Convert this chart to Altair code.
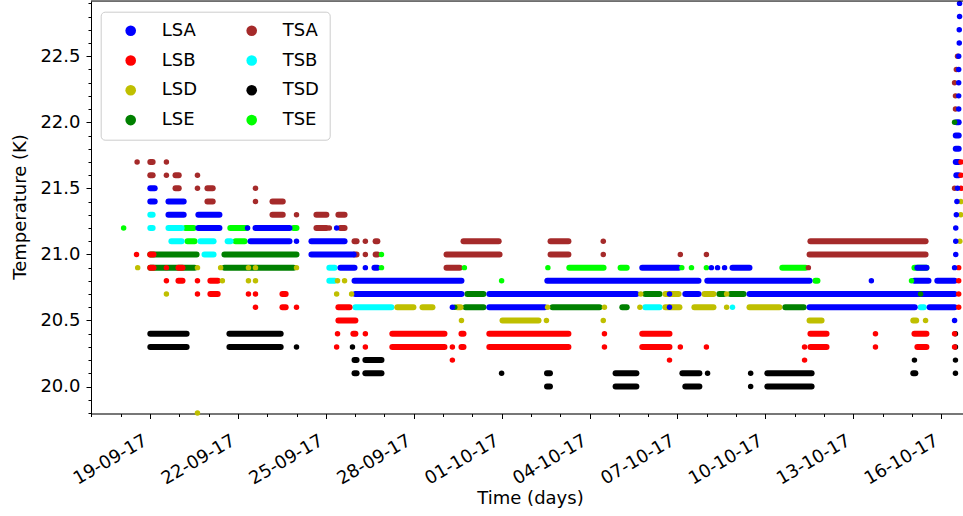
import altair as alt
import pandas as pd

# Each run: (temperature K, start day, end day); days counted from 2017-09-17 00:00.
# A run with a single day value is an isolated reading.
LSA = [
    (21.5, 2.01, 2.16),
    (21.4, 2.01, 2.16), (21.4, 2.63, 3.15),
    (21.3, 2.63, 3.15), (21.3, 3.65, 4.37),
    (21.2, 3.65, 4.37), (21.2, 5.33), (21.2, 5.60, 6.76), (21.2, 8.37),
    (21.1, 5.43, 6.76), (21.1, 7.00), (21.1, 7.51, 8.64),
    (21.0, 7.51, 8.95),
    (20.9, 8.50, 8.98), (20.9, 9.35), (20.9, 9.66, 9.76), (20.9, 18.80, 20.04),
    (20.9, 21.16), (20.9, 21.37), (20.9, 21.61), (20.9, 21.88, 22.46),
    (20.9, 28.19, 28.50), (20.9, 29.46),
    (20.8, 8.98, 12.63), (20.8, 15.56, 20.72), (20.8, 21.02, 24.51), (20.8, 26.62),
    (20.8, 28.09, 28.57), (20.8, 28.87, 29.46),
    (20.7, 9.01, 12.63), (20.7, 13.58, 18.60), (20.7, 19.73), (20.7, 20.27, 20.72),
    (20.7, 22.46, 29.46),
    (20.6, 12.32), (20.6, 13.58, 15.47), (20.6, 19.73), (20.6, 24.51, 28.10),
    (20.6, 28.61, 29.46),
    (20.5, 29.46),
    (21.0, 29.50), (21.1, 29.50), (21.2, 29.50), (21.3, 29.52), (21.4, 29.54),
    (21.5, 29.56), (21.6, 29.52, 29.60), (21.7, 29.50, 29.60), (21.8, 29.50, 29.60),
    (21.9, 29.50, 29.60), (22.0, 29.53, 29.60), (22.1, 29.60), (22.2, 29.60),
    (22.3, 29.60), (22.4, 29.60), (22.5, 29.60), (22.6, 29.62), (22.7, 29.62),
    (22.8, 29.63), (22.9, 29.63),
]
LSB = [
    (21.0, 1.54), (21.0, 2.01, 2.12),
    (20.9, 2.01, 2.12), (20.9, 2.56), (20.9, 2.97, 3.11),
    (20.8, 2.56), (20.8, 2.97, 3.11), (20.8, 3.62), (20.8, 4.06, 4.31),
    (20.7, 3.62), (20.7, 4.06, 4.31), (20.7, 5.36), (20.7, 5.60), (20.7, 6.52, 6.63),
    (20.6, 5.60), (20.6, 6.52, 6.63), (20.6, 7.00), (20.6, 8.43, 8.81),
    (20.5, 8.43, 9.01),
    (20.4, 8.40), (20.4, 8.94, 9.01), (20.4, 9.35), (20.4, 10.27, 12.05),
    (20.4, 12.63, 12.70), (20.4, 13.58, 16.28), (20.4, 17.51), (20.4, 18.80, 19.73),
    (20.4, 24.54, 25.09), (20.4, 26.76), (20.4, 28.09, 28.50), (20.4, 29.46),
    (20.3, 8.37), (20.3, 9.35), (20.3, 10.27, 12.05), (20.3, 12.32), (20.3, 12.63, 12.70),
    (20.3, 13.58, 16.28), (20.3, 17.51), (20.3, 18.80, 19.73), (20.3, 20.10),
    (20.3, 20.99), (20.3, 24.34), (20.3, 24.54, 25.09), (20.3, 26.76),
    (20.3, 28.19, 28.50), (20.3, 29.46),
    (20.2, 12.32), (20.2, 19.73), (20.2, 24.34),
    (21.7, 29.68), (21.6, 29.68), (21.5, 29.68),
    (20.9, 29.60), (20.8, 29.60), (20.7, 29.60), (20.6, 29.60),
]
LSD = [
    (20.9, 1.58), (20.9, 3.62), (20.9, 4.41), (20.9, 5.36), (20.9, 5.60), (20.9, 7.00),
    (20.8, 4.47), (20.8, 5.36), (20.8, 5.60), (20.8, 8.40), (20.8, 8.64),
    (20.7, 2.56), (20.7, 8.37), (20.7, 8.88), (20.7, 18.75), (20.7, 19.59, 20.04),
    (20.7, 20.92, 21.23), (20.7, 21.68),
    (20.6, 10.44, 10.99), (20.6, 11.30, 11.64), (20.6, 12.49, 12.60), (20.6, 15.57),
    (20.6, 17.51), (20.6, 18.72), (20.6, 19.59, 20.07), (20.6, 20.58, 21.23),
    (20.6, 21.68), (20.6, 22.46, 23.48),
    (20.5, 12.63), (20.5, 14.03, 15.26), (20.5, 15.53), (20.5, 17.47),
    (20.5, 24.51, 24.92), (20.5, 28.05, 28.15), (20.5, 28.47),
    (19.8, 3.62),
    (21.4, 29.67), (21.3, 29.67), (21.1, 29.64),
]
LSE = [
    (21.0, 2.01, 3.59), (21.0, 4.54, 7.00),
    (20.9, 2.01, 3.52), (20.9, 4.54, 6.90),
    (20.7, 12.83, 13.38), (20.7, 18.90, 19.39), (20.7, 21.43, 21.58),
    (20.7, 21.81, 22.26), (20.7, 28.30),
    (20.6, 12.40), (20.6, 12.77, 13.38), (20.6, 15.74, 17.34), (20.6, 18.12, 18.27),
    (20.6, 23.68, 24.31),
    (22.0, 29.46),
]
TSA = [
    (21.7, 1.56), (21.7, 2.01, 2.09), (21.7, 2.56),
    (21.6, 2.01, 2.09), (21.6, 2.56), (21.6, 2.87, 2.98), (21.6, 3.62),
    (21.5, 2.87, 2.98), (21.5, 3.62), (21.5, 3.96, 4.14), (21.5, 5.60),
    (21.4, 3.96, 4.14), (21.4, 5.60), (21.4, 6.18, 6.53),
    (21.3, 6.18, 6.53), (21.3, 7.00), (21.3, 7.68, 8.02), (21.3, 8.43, 8.64),
    (21.2, 7.68, 8.02), (21.2, 8.12), (21.2, 8.50, 8.64),
    (21.1, 8.98, 9.05), (21.1, 9.35), (21.1, 9.70, 9.76), (21.1, 12.70, 13.90),
    (21.1, 15.67, 16.28), (21.1, 17.47), (21.1, 24.54, 28.47),
    (21.0, 8.98, 9.05), (21.0, 9.35), (21.0, 9.70, 9.76), (21.0, 12.12, 13.93),
    (21.0, 15.67, 16.28), (21.0, 17.47), (21.0, 20.10), (21.0, 20.99),
    (21.0, 24.51, 28.47),
    (20.9, 12.12, 12.57), (20.9, 24.47),
    (22.5, 29.56), (22.4, 29.52), (22.3, 29.46), (22.2, 29.49), (22.1, 29.49),
    (21.5, 29.46),
]
TSB = [
    (21.3, 2.01, 2.09),
    (21.2, 2.01, 2.09), (21.2, 2.63, 3.08),
    (21.1, 2.73, 3.08), (21.1, 3.72, 4.17), (21.1, 4.65, 4.75),
    (21.0, 3.86, 4.17),
    (20.9, 8.12, 8.30),
    (20.8, 8.12, 8.30),
    (20.6, 9.01, 10.24), (20.6, 18.90, 19.39), (20.6, 21.88), (20.6, 28.30, 28.41),
]
TSD = [
    (20.4, 2.01, 3.25), (20.4, 4.71, 6.46),
    (20.3, 2.01, 3.25), (20.3, 4.71, 6.46), (20.3, 7.00), (20.3, 8.91),
    (20.2, 8.98, 9.05), (20.2, 9.35, 9.90), (20.2, 28.09), (20.2, 29.49),
    (20.1, 8.98, 9.05), (20.1, 9.35, 9.90), (20.1, 14.00), (20.1, 15.55, 15.65),
    (20.1, 17.89, 18.60), (20.1, 20.17, 20.75), (20.1, 21.03), (20.1, 22.50),
    (20.1, 23.07, 24.58), (20.1, 28.05, 28.12), (20.1, 29.49),
    (20.0, 15.55, 15.65), (20.0, 17.89, 18.60), (20.0, 20.27, 20.75), (20.0, 22.50),
    (20.0, 23.07, 24.58),
    (20.4, 29.49), (20.3, 29.49),
]
TSE = [
    (21.2, 1.10), (21.2, 3.21, 3.49), (21.2, 4.74, 5.30), (21.2, 6.90, 7.00),
    (21.1, 3.28, 3.52), (21.1, 4.92, 5.23),
    (21.0, 9.90),
    (20.9, 9.90), (20.9, 12.73), (20.9, 15.58), (20.9, 16.31, 17.48),
    (20.9, 18.06, 18.27), (20.9, 20.15), (20.9, 20.48), (20.9, 20.99),
    (20.9, 23.58, 24.37), (20.9, 28.09, 28.50),
    (20.8, 14.00), (20.8, 24.71, 24.78), (20.8, 27.99),
]

# legend entries (filled column by column, two columns) and their colours
LEGEND_ORDER = ["LSA", "LSB", "LSD", "LSE", "TSA", "TSB", "TSD", "TSE"]
LEGEND_COLORS = ["#0000ff", "#ff0000", "#bfbf00", "#008000",
                 "#a52a2a", "#00ffff", "#000000", "#00ff00"]

# axis ticks
X_TICK_DAYS = [(9, d) for d in range(17, 31)] + [(10, d) for d in range(1, 17)]
Y_TICKS = [19.8, 19.9, 20.0, 20.1, 20.2, 20.3, 20.4, 20.5, 20.6, 20.7, 20.8, 20.9,
           21.0, 21.1, 21.2, 21.3, 21.4, 21.5, 21.6, 21.7, 21.8, 21.9, 22.0, 22.1,
           22.2, 22.3, 22.4, 22.5, 22.6, 22.7, 22.8, 22.9]

START = pd.Timestamp("2017-09-17 00:00")
DRAW_ORDER = [("TSE", TSE), ("TSD", TSD), ("TSB", TSB), ("TSA", TSA),
              ("LSE", LSE), ("LSD", LSD), ("LSB", LSB), ("LSA", LSA)]

rows = []
for name, runs in DRAW_ORDER:
    for run in runs:
        d0 = run[1]
        d1 = run[2] if len(run) > 2 else run[1]
        rows.append({
            "series": name,
            "sensor": name,
            "temp": run[0],
            "t0": START + pd.Timedelta(days=d0),
            "t1": START + pd.Timedelta(days=d1),
            "single": len(run) == 2,
        })
df = pd.DataFrame(rows)
runs_df = df[~df["single"]].drop(columns=["single"])
dots_df = df[df["single"]].drop(columns=["single"])

W, H = 872, 412.5
FONT = "DejaVu Sans"

x_scale = alt.Scale(domain=[alt.DateTime(year=2017, month=9, date=16, hours=23, minutes=40),
                            alt.DateTime(year=2017, month=10, date=16, hours=17, minutes=56)])
y_scale = alt.Scale(domain=[19.796, 22.918], nice=False, zero=False)

x_major = "round((datum.value - datetime(2017, 8, 19)) / 86400000) % 3 == 0"
y_major = "abs(datum.value * 2 - round(datum.value * 2)) < 0.001"

x_axis = alt.Axis(
    values=[alt.DateTime(year=2017, month=m, date=d) for m, d in X_TICK_DAYS],
    tickCount=200,
    labelExpr=x_major + " ? timeFormat(datum.value, '%d-%m-%y') : ''",
    tickSize={"condition": {"test": x_major, "value": 5}, "value": 3},
    labelAngle=330, labelAlign="right", labelBaseline="top",
    labelPadding=13, labelOffset=-9, labelFontSize=18, labelColor="black",
    labelOverlap=False, labelFlush=False,
    tickColor="black", domainColor="black", grid=False,
    title="Time (days)", titleFontSize=18, titleFontWeight="normal", titleColor="black",
    titleX=439, titleY=89.5, titleAlign="center", titleBaseline="alphabetic",
)
y_axis = alt.Axis(
    values=Y_TICKS,
    tickCount=200,
    labelExpr=y_major + " ? format(datum.value, '.1f') : ''",
    tickSize={"condition": {"test": y_major, "value": 5}, "value": 3},
    labelPadding=6, labelFontSize=18, labelColor="black",
    labelOverlap=False, labelFlush=False,
    tickColor="black", domainColor="black", grid=False,
    title="Temperature (K)", titleFontSize=18, titleFontWeight="normal", titleColor="black",
    titleAngle=270, titleX=-66, titleY=205.5, titleAlign="center", titleBaseline="alphabetic",
)

runs_layer = alt.Chart(runs_df).mark_rule(strokeWidth=6, strokeCap="round").encode(
    x=alt.X("t0:T", scale=x_scale, axis=x_axis),
    x2="t1:T",
    y=alt.Y("temp:Q", scale=y_scale, axis=y_axis),
    stroke=alt.Stroke("series:N", scale=alt.Scale(domain=LEGEND_ORDER, range=LEGEND_COLORS),
                      legend=None),
)

dots_layer = alt.Chart(dots_df).mark_circle(size=30, opacity=1).encode(
    x=alt.X("t0:T", scale=x_scale),
    y=alt.Y("temp:Q", scale=y_scale),
    fill=alt.Fill("sensor:N", scale=alt.Scale(domain=LEGEND_ORDER, range=LEGEND_COLORS),
                  legend=alt.Legend(
                      title=None, orient="none", legendX=9.7, legendY=10.7, columns=2,
                      symbolType="circle", symbolSize=113, symbolOpacity=1, symbolStrokeWidth=0,
                      symbolOffset=11, labelFontSize=18, labelColor="black", labelOffset=22,
                      columnPadding=34, rowPadding=11.8, padding=10, labelLimit=0,
                      strokeColor="#cccccc", fillColor="white", cornerRadius=4,
                  )),
)

top_spine = alt.Chart(alt.Data(values=[{"k": 1}])).mark_rule(color="black", strokeWidth=1).encode(
    x=alt.value(0), x2=alt.value(W), y=alt.value(0)
)

chart = alt.layer(runs_layer, dots_layer, top_spine).resolve_scale(
    stroke="independent", fill="independent"
).properties(
    width=W, height=H,
    autosize=alt.AutoSizeParams(type="none"),
    padding={"left": 91, "top": 1, "right": 0, "bottom": 102.5},
).configure_view(stroke=None).configure(font=FONT).configure_axis(
    labelFont=FONT, titleFont=FONT
).configure_legend(labelFont=FONT)

chart.save("out.html", embed_options={"renderer": "svg", "actions": False})
